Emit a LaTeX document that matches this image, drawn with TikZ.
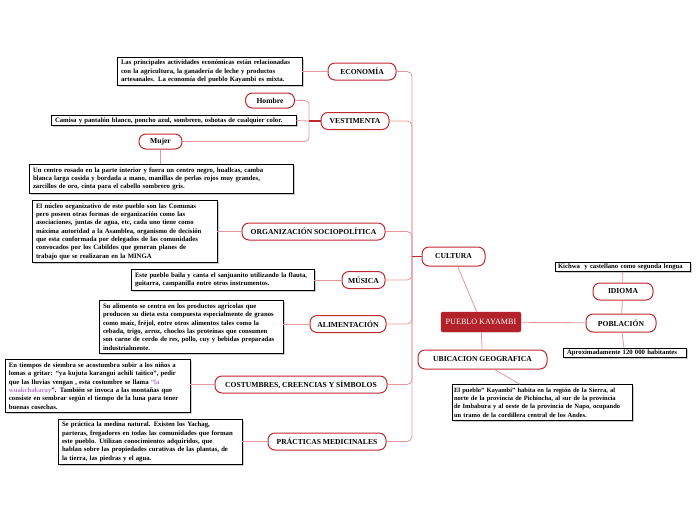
\documentclass[tikz,border=0pt]{standalone}
\usepackage{fontspec}
\setmainfont{Liberation Serif}
\usetikzlibrary{shadows}
\definecolor{kred}{RGB}{192,40,48}
\definecolor{kdark}{RGB}{178,34,40}
\definecolor{kpink}{RGB}{232,150,155}
\definecolor{kviolet}{RGB}{176,120,200}

\begin{document}
\begin{tikzpicture}[
  x=1pt, y=-1pt,
  topic/.style={draw=kred, line width=1pt, fill=white, rounded corners=7pt,
    font=\fontsize{7.6}{9}\selectfont\bfseries, minimum height=17pt, inner xsep=2pt},
  desc/.style={draw=black, line width=0.8pt, fill=white, align=left, inner xsep=4pt, inner ysep=3pt,
    font=\fontsize{6.7}{8.3}\selectfont\bfseries,
    drop shadow={shadow xshift=1.5pt, shadow yshift=-1.5pt, fill=black!40}},
  link/.style={draw=kpink, line width=0.8pt},
  strong/.style={draw=kred, line width=1.6pt}
]
\useasboundingbox (0,0) rectangle (696,520);

\node[topic, minimum width=68pt] (eco) at (362,71.5) {ECONOMÍA};
\node[topic, minimum width=68pt] (vest) at (355,121) {VESTIMENTA};
\node[topic, minimum width=49pt, minimum height=15pt] (hombre) at (270,100.5) {Hombre};
\node[topic, minimum width=43pt, minimum height=15pt] (mujer) at (160.5,141.5) {Mujer};
\node[topic, minimum width=143pt] (org) at (313.5,231.5) {ORGANIZACIÓN SOCIOPOLÍTICA};
\node[topic, minimum width=43pt] (mus) at (363.5,280) {MÚSICA};
\node[topic, minimum width=76pt] (alim) at (348,324) {ALIMENTACIÓN};
\node[topic, minimum width=172pt] (cost) at (301,384.5) {COSTUMBRES, CREENCIAS Y SÍMBOLOS};
\node[topic, minimum width=118pt] (prac) at (327,441.5) {PRÁCTICAS MEDICINALES};
\node[topic, minimum width=63pt, minimum height=19pt] (cult) at (453.5,256.5) {CULTURA};
\node[topic, minimum width=129pt, minimum height=19pt] (ubic) at (482.5,359.5) {UBICACION GEOGRAFICA};
\node[topic, minimum width=70pt, minimum height=18pt] (pob) at (621,323) {POBLACIÓN};
\node[topic, minimum width=60pt] (idioma) at (623,291.5) {IDIOMA};
\node[draw=kdark, fill=kdark, rounded corners=2pt, text=white, minimum width=80pt, minimum height=20pt,
  font=\fontsize{8.1}{9}\selectfont] (pk) at (481,322) {PUEBLO KAYAMBI};

\node[desc, text width=177pt] (ecotxt) at (209.5,71.5) {Las principales actividades económicas están relacionadas\\
con la agricultura, la ganadería de leche y productos\\
artesanales. La economía del pueblo Kayambi es mixta.};
\node[desc, text width=237pt, inner ysep=2pt] (vesttxt) at (173.5,120.5) {Camisa y pantalón blanco, poncho azul, sombrero, oshotas de cualquier color.};
\node[desc, text width=256pt] (mujertxt) at (161,179) {Un centro rosado en la parte interior y fuera un centro negro, huallcas, camba\\
blanca larga cosida y bordada a mano, manillas de perlas rojos muy grandes,\\
zarcillos de oro, cinta para el cabello sombrero gris.};
\node[desc, text width=177pt] (orgtxt) at (124.5,231.5) {El núcleo organizativo de este pueblo son las Comunas\\
pero poseen otras formas de organización como las\\
asociaciones, juntas de agua, etc, cada uno tiene como\\
máxima autoridad a la Asamblea, organismo de decisión\\
que esta conformada por delegados de las comunidades\\
convocados por los Cabildos que generan planes de\\
trabajo que se realizaran en la MINGA};
\node[desc, text width=175pt] (mustxt) at (222.5,280) {Este pueblo baila y canta el sanjuanito utilizando la flauta,\\
guitarra, campanilla entre otros instrumentos.};
\node[desc, text width=176pt] (alimtxt) at (191,327) {Su alimento se centra en los productos agrícolas que\\
producen su dieta esta compuesta especialmente de granos\\
como maíz, fréjol, entre otros alimentos tales como la\\
cebada, trigo, arroz, choclos las proteínas que consumen\\
son carne de cerdo de res, pollo, cuy y bebidas preparadas\\
industrialmente.};
\node[desc, text width=177pt] (costtxt) at (97.5,386) {En tiempos de siembra se acostumbra subir a los niños a\\
lomas a gritar: “ya kujuta karangui achili taitico”, pedir\\
que las lluvias vengan , esta costumbre se llama {\color{kviolet}“la}\\
{\color{kviolet}wuakchakaray}”. También se invoca a las montañas que\\
consiste en sembrar según el tiempo de la luna para tener\\
buenas cosechas.};
\node[desc, text width=176pt] (practxt) at (150,442) {Se práctica la medina natural. Existen los Yachag,\\
parteras, fregadores en todas las comunidades que forman\\
este pueblo. Utilizan conocimientos adquiridos, que\\
hablan sobre las propiedades curativas de las plantas, de\\
la tierra, las piedras y el agua.};
\node[desc, text width=176pt, inner xsep=2pt, font=\fontsize{6.5}{8.3}\selectfont\bfseries] (ubictxt) at (542,402.5) {El pueblo” Kayambi” habita en la región de la Sierra, al\\
norte de la provincia de Pichincha, al sur de la provincia\\
de Imbabura y al oeste de la provincia de Napo, ocupando\\
un tramo de la cordillera central de los Andes.};
\node[desc, text width=129pt, inner xsep=3pt, inner ysep=1.5pt] (idiomatxt) at (622.5,267) {Kichwa\ \ y castellano como segunda lengua};
\node[desc, text width=115pt, inner ysep=1.5pt] (pobtxt) at (624.5,352.5) {Aproximadamente 120 000 habitantes};

\coordinate (tr) at (412,256.5);
\coordinate (vj) at (309,121);

\draw[link, rounded corners=5pt] (eco.east) -| (tr) |- (prac.east);
\foreach \t in {vest,org,mus,alim,cost}
  \draw[link, rounded corners=5pt] (\t.east) -| (tr);
\draw[strong] (cult.west) -- (tr);

\draw[link, rounded corners=4pt] (hombre.east) -| (vj) |- (mujer.east);
\draw[link] (vesttxt.east) -- (vj);
\draw[strong] (vest.west) -- (vj);
\draw[link] (mujer.south) -- (mujertxt.north -| mujer.south);

\foreach \t in {eco,org,mus,alim,cost,prac}
  \draw[link] (\t.west) -- (\t.west -| \t txt.east);

\draw[link] (pk) -- (cult);
\draw[link] (pk) -- (ubic);
\draw[link] (pk) -- (pob);
\draw[link] ([xshift=12pt]ubic.south) -- ([xshift=-22pt]ubictxt.north);
\draw[link] (pob) -- (idioma);
\draw[link] (idioma) -- (idiomatxt);
\draw[link] (pob) -- (pobtxt);
\end{tikzpicture}
\end{document}
